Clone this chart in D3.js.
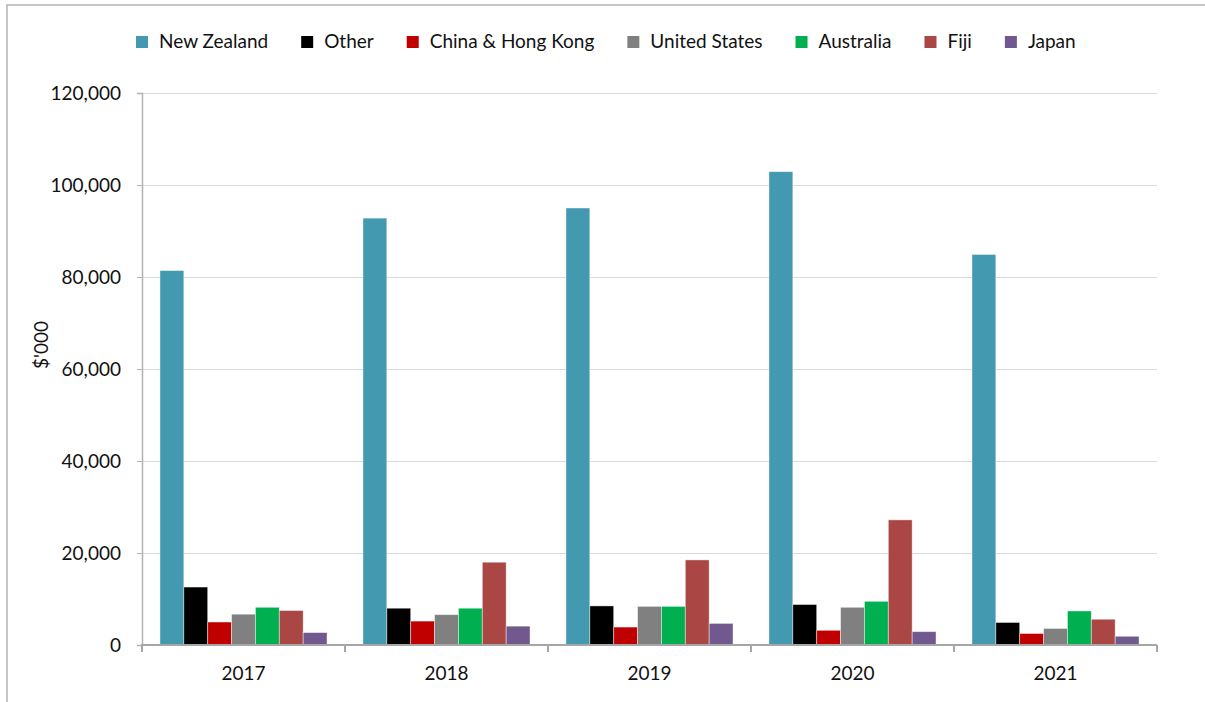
<!DOCTYPE html>
<html>
<head>
<meta charset="utf-8">
<script src="https://cdn.jsdelivr.net/npm/d3@7"></script>
<style>
  html, body { margin: 0; padding: 0; background: #fff; }
  svg { display: block; }
  text { font-family: "Lato", "Liberation Sans", sans-serif; fill: #111; }
</style>
</head>
<body>
<svg id="chart" width="1205" height="702"></svg>
<script>
// Years on the category axis
const years = ["2017", "2018", "2019", "2020", "2021"];

// Series names, in legend / bar order
const seriesNames = ["New Zealand", "Other", "China & Hong Kong", "United States", "Australia", "Fiji", "Japan"];

// Values in $'000, one per year
const newZealand   = [81400, 92800, 95000, 102900, 84900];
const other        = [12600, 8000, 8500, 8800, 4900];
const chinaHK      = [5000, 5200, 3900, 3200, 2500];
const unitedStates = [6700, 6600, 8400, 8200, 3600];
const australia    = [8200, 8000, 8400, 9500, 7400];
const fiji         = [7500, 18000, 18500, 27200, 5600];
const japan        = [2700, 4100, 4700, 2900, 1900];

// Y-axis ticks
const yTicks = [0, 20000, 40000, 60000, 80000, 100000, 120000];

const seriesValues = [newZealand, other, chinaHK, unitedStates, australia, fiji, japan];
const seriesColors = ["#4399b0", "#000000", "#c00000", "#808080", "#00b050", "#aa4643", "#71588f"];

const svg = d3.select("#chart");

// Outer frame (left and top edges)
svg.append("path")
  .attr("d", "M7,702 V5 H1205")
  .attr("fill", "none")
  .attr("stroke", "#b3b3b3")
  .attr("stroke-width", 1.5);

const plot = { left: 142, right: 1157, top: 93, bottom: 645 };

const y = d3.scaleLinear().domain([0, 120000]).range([plot.bottom, plot.top]);

const pad = 0.177;
const x0 = d3.scaleBand().domain(years).range([plot.left, plot.right])
  .paddingInner(pad).paddingOuter(pad / 2);
const x1 = d3.scaleBand().domain(seriesNames).range([0, x0.bandwidth()]).padding(0);

// Horizontal gridlines
svg.append("g")
  .selectAll("line")
  .data(yTicks.filter(d => d > 0))
  .join("line")
  .attr("x1", plot.left).attr("x2", plot.right)
  .attr("y1", d => Math.round(y(d)) + 0.5).attr("y2", d => Math.round(y(d)) + 0.5)
  .attr("stroke", "#d9d9d9").attr("stroke-width", 1);

// Y axis
const yAxis = d3.axisLeft(y)
  .tickValues(yTicks)
  .tickSize(5)
  .tickPadding(16)
  .tickFormat(d3.format(","));

const gy = svg.append("g")
  .attr("transform", `translate(${plot.left},0)`)
  .call(yAxis);
gy.select(".domain").attr("stroke", "#b3b3b3").attr("stroke-width", 1.5);
gy.selectAll(".tick line").attr("stroke", "#b3b3b3");
gy.selectAll(".tick text")
  .attr("font-size", 19)
  .attr("fill", "#111")
  .attr("font-family", "Lato, 'Liberation Sans', sans-serif");

// Bars
const groups = svg.append("g")
  .selectAll("g")
  .data(years)
  .join("g")
  .attr("transform", d => `translate(${x0(d)},0)`);

groups.selectAll("rect")
  .data((yr, i) => seriesNames.map((name, s) => ({ name, color: seriesColors[s], value: seriesValues[s][i] })))
  .join("rect")
  .attr("x", d => x1(d.name))
  .attr("width", x1.bandwidth())
  .attr("y", d => y(d.value))
  .attr("height", d => y(0) - y(d.value))
  .attr("fill", d => d.color)
  .attr("stroke", "rgba(255,255,255,0.55)")
  .attr("stroke-width", 0.8);

// X axis: baseline with tick marks at category boundaries
const step = x0.step();
const gap = step - x0.bandwidth();
const boundaries = years.map(d => x0(d) - gap / 2).concat([plot.right]);

const gx = svg.append("g");
gx.append("line")
  .attr("x1", plot.left - 1).attr("x2", plot.right)
  .attr("y1", plot.bottom).attr("y2", plot.bottom)
  .attr("stroke", "#a6a6a6").attr("stroke-width", 2);
gx.selectAll("line.tick")
  .data(boundaries)
  .join("line")
  .attr("class", "tick")
  .attr("x1", d => d).attr("x2", d => d)
  .attr("y1", plot.bottom).attr("y2", plot.bottom + 7)
  .attr("stroke", "#a6a6a6").attr("stroke-width", 2);
gx.selectAll("text")
  .data(years)
  .join("text")
  .attr("x", d => x0(d) + x0.bandwidth() / 2)
  .attr("y", 680)
  .attr("text-anchor", "middle")
  .attr("font-size", 19)
  .text(d => d);

// Y axis title
svg.append("text")
  .attr("transform", "translate(48,345) rotate(-90)")
  .attr("text-anchor", "middle")
  .attr("font-size", 19)
  .text("$'000");

// Legend
const legend = svg.append("g");
let lx = 136;
seriesNames.forEach((name, s) => {
  const item = legend.append("g").attr("transform", `translate(${lx},0)`);
  item.append("rect")
    .attr("x", 0).attr("y", 36)
    .attr("width", 12).attr("height", 12)
    .attr("fill", seriesColors[s]);
  const t = item.append("text")
    .attr("x", 23).attr("y", 48)
    .attr("font-size", 19)
    .text(name);
  lx += 23 + t.node().getComputedTextLength() + 33;
});
</script>
</body>
</html>
